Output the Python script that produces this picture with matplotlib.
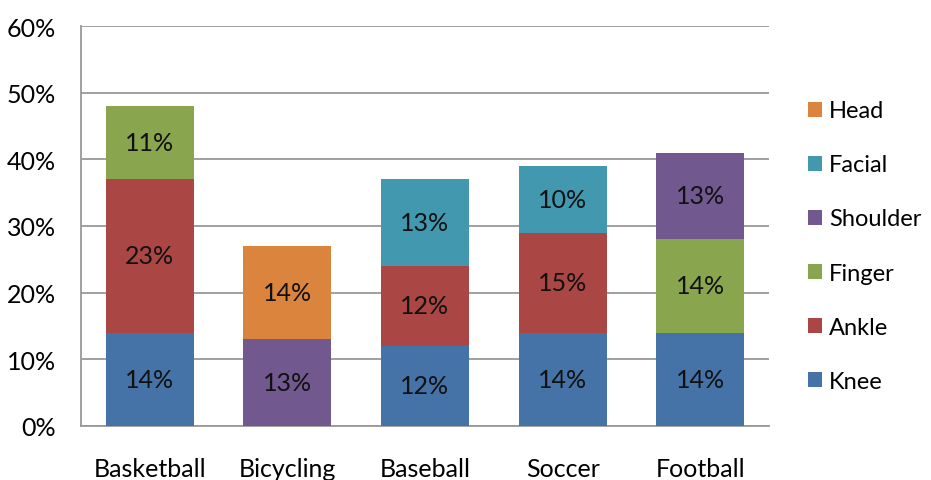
import numpy as np
import matplotlib.pyplot as plt

sports = ["Basketball", "Bicycling", "Baseball", "Soccer", "Football"]
# stacked bottom -> top
parts = ["Knee", "Ankle", "Finger", "Shoulder", "Facial", "Head"]
knee = [14, 0, 12, 14, 14]
ankle = [23, 0, 12, 15, 0]
finger = [11, 0, 0, 0, 14]
shoulder = [0, 13, 0, 0, 13]
facial = [0, 0, 13, 10, 0]
head = [0, 14, 0, 0, 0]
colors = ["#4572A7", "#AA4643", "#89A54E", "#71588F", "#4198AF", "#DB843D"]

plt.rcParams['font.family'] = ['Lato', 'DejaVu Sans']
fs = 18

fig = plt.figure(figsize=(9.31, 4.81), dpi=100)
ax = fig.add_axes([81 / 931, 1 - 427 / 481, 688 / 931, 400 / 481])

x = np.arange(len(sports))
bottom = np.zeros(len(sports))
handles = []
for name, vals, c in zip(parts, [knee, ankle, finger, shoulder, facial, head], colors):
    vals = np.array(vals, dtype=float)
    b = ax.bar(x, vals, 0.64, bottom=bottom, color=c, label=name, zorder=3)
    handles.append(b)
    for xi, v, bt in zip(x, vals, bottom):
        if v > 0:
            ax.text(xi, bt + v / 2, f"{int(v)}%", ha="center", va="center",
                    fontsize=fs, color="#111111", zorder=4)
    bottom += vals

ax.set_xlim(-0.5, len(sports) - 0.5)
ax.set_ylim(0, 60)
ax.set_yticks(range(0, 61, 10))
ax.set_yticklabels([f"{t}%" for t in range(0, 61, 10)], fontsize=fs)
ax.set_xticks(x)
ax.set_xticklabels(sports, fontsize=fs)
ax.tick_params(axis="y", length=0, pad=18)
ax.tick_params(axis="x", length=0, pad=22)
ax.grid(axis="y", color="#999999", linewidth=1.3, zorder=0)
for s in ["top", "right"]:
    ax.spines[s].set_visible(False)
ax.spines["left"].set_color("#999999")
ax.spines["bottom"].set_color("#999999")
ax.spines["left"].set_linewidth(1.3)
ax.spines["bottom"].set_linewidth(1.3)

leg = fig.legend(handles[::-1], parts[::-1], loc="center left",
                 bbox_to_anchor=(808 / 931, 1 - 247 / 481), frameon=False,
                 fontsize=17, handlelength=0.6, handleheight=0.6,
                 handletextpad=0.3, labelspacing=1.4,
                 borderaxespad=0, borderpad=0)

fig.savefig("out.png", dpi=100)
